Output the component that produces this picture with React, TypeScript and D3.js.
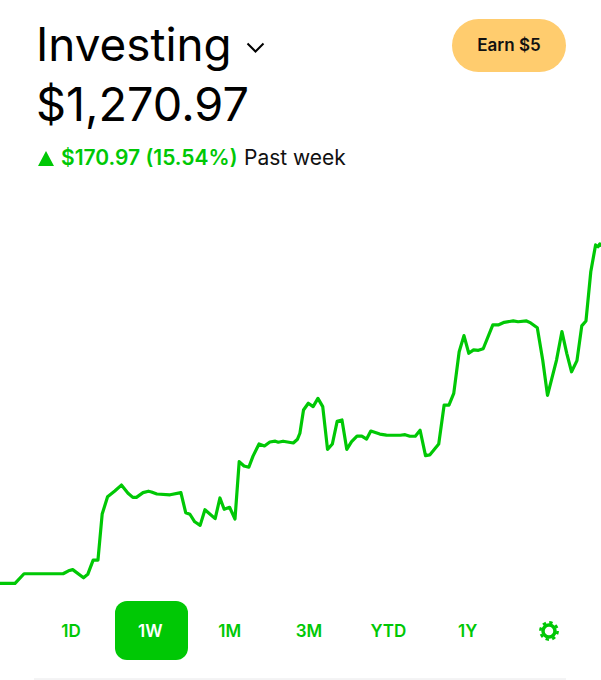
import React from "react";
import * as d3 from "d3";

// position in the week, percent
const weekPct = [
  0, 2.5, 4.0, 10.5, 11.4, 12.1, 13.9, 14.6, 15.5, 16.3, 17.0, 17.9, 19.1, 20.2, 21.3, 22.1, 22.7, 23.8, 24.7, 25.2,
  26.1, 28.3, 30.1, 30.9, 31.6, 32.4, 33.3, 34.1, 35.8, 36.6, 37.3, 38.2, 39.1, 39.8, 40.6, 41.4, 42.1, 43.1, 44.0, 44.9,
  45.8, 46.3, 47.1, 48.8, 49.5, 49.9, 50.5, 51.3, 52.1, 52.9, 53.7, 54.5, 55.3, 56.1, 56.9, 57.7, 58.5, 59.4, 60.2, 61.0,
  61.7, 63.2, 64.3, 66.6, 67.4, 68.2, 69.1, 69.9, 70.8, 71.5, 73.0, 73.9, 74.7, 75.5, 76.4, 77.2, 78.0, 78.8, 79.6, 80.4,
  82.0, 82.9, 83.9, 85.4, 86.2, 87.6, 88.3, 89.4, 90.3, 91.1, 92.6, 93.5, 94.3, 95.1, 96.0, 96.8, 97.5, 98.3, 99.1, 99.5,
  99.8, 100,
];

const balance = [
  1100.0, 1100.0, 1104.8, 1104.8, 1106.3, 1106.9, 1102.8, 1104.5, 1111.7, 1111.7, 1134.9, 1143.6, 1146.5, 1149.5, 1145.4, 1143.3, 1143.3, 1145.7, 1146.4, 1146.0,
  1145.0, 1144.6, 1145.7, 1135.6, 1134.8, 1131.0, 1129.2, 1137.1, 1132.6, 1143.0, 1137.3, 1138.3, 1132.4, 1161.3, 1159.1, 1158.5, 1164.1, 1170.2, 1169.2, 1171.2,
  1171.6, 1171.1, 1171.6, 1170.7, 1172.6, 1175.6, 1187.3, 1190.7, 1189.0, 1193.2, 1189.0, 1167.5, 1170.2, 1181.6, 1182.3, 1167.5, 1171.4, 1174.2, 1174.2, 1172.7,
  1176.7, 1175.2, 1174.7, 1174.6, 1174.9, 1174.1, 1174.1, 1177.1, 1164.3, 1164.7, 1170.2, 1189.8, 1189.8, 1195.7, 1216.7, 1224.8, 1215.9, 1217.6, 1217.4, 1218.2,
  1230.2, 1230.2, 1231.5, 1232.2, 1231.8, 1232.2, 1231.2, 1228.8, 1212.5, 1194.7, 1212.5, 1226.8, 1215.9, 1206.6, 1212.2, 1229.7, 1232.2, 1257.0, 1270.5, 1269.6,
  1271.0, 1269.6,
];

const ranges = ["1D", "1W", "1M", "3M", "YTD", "1Y"];
const activeRange = "1W";

const GREEN = "#00c805";
const FONT = "Inter, 'Noto Sans', sans-serif";

const x = d3.scaleLinear().domain([0, 100]).range([0, 601]);
const y = d3.scaleLinear().domain([1100, 1270.97]).range([583.3, 244]);
const tabX = d3.scalePoint<string>().domain([...ranges, "settings"]).range([71, 547]);

const line = d3
  .line<number>()
  .x((d) => x(d))
  .y((_, i) => y(balance[i]));

export default function App() {
  const gearX = tabX("settings")! + 2;
  return (
    <svg
      width={601}
      height={680}
      style={{ position: "absolute", left: 0, top: 0, background: "#fff" }}
      fontFamily={FONT}
    >
      <text x={36} y={61} fontSize={45.8} fill="#000">Investing</text>
      <path d="M247.5,43.5 L255.5,51.5 L263.5,43.5" fill="none" stroke="#000" strokeWidth={2} />
      <text x={36} y={121} fontSize={46.8} fill="#000">$1,270.97</text>

      <rect x={452} y={19} width={114} height={53} rx={26.5} fill="#ffcc6e" />
      <text x={509} y={51} fontSize={17} fontWeight={600} textAnchor="middle" fill="#111">Earn $5</text>

      <path d="M38,166 L46,151 L54,166 Z" fill={GREEN} />
      <text x={61} y={165} fontSize={21} fontWeight={600} fill={GREEN}>$170.97 (15.54%)</text>
      <text x={244} y={165} fontSize={21} fill="#111">Past week</text>

      <path d={line(weekPct) ?? ""} fill="none" stroke={GREEN} strokeWidth={3.2} strokeLinejoin="round" />

      <rect x={115} y={601} width={73} height={59} rx={12} fill={GREEN} />
      {ranges.map((r) => (
        <text
          key={r}
          x={tabX(r)}
          y={637}
          fontSize={17}
          fontWeight={600}
          textAnchor="middle"
          fill={r === activeRange ? "#fff" : GREEN}
        >
          {r}
        </text>
      ))}

      <circle cx={gearX} cy={631} r={6} fill="none" stroke={GREEN} strokeWidth={3.5} />
      <circle cx={gearX} cy={631} r={8.6} fill="none" stroke={GREEN} strokeWidth={2.6} strokeDasharray="3.4 3.35" />

      <line x1={34} x2={566} y1={679} y2={679} stroke="#e8e8ea" strokeWidth={1} />
    </svg>
  );
}
